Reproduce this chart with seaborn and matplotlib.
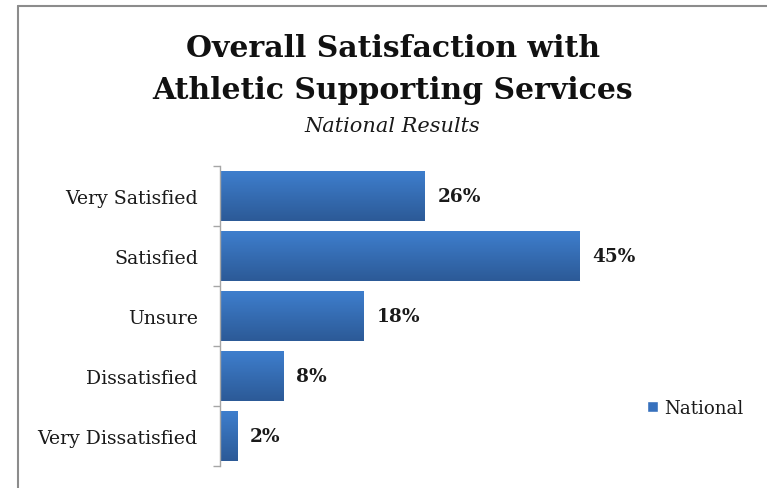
import numpy as np
import pandas as pd
import matplotlib
matplotlib.use("Agg")
import matplotlib.pyplot as plt
from matplotlib.lines import Line2D
from matplotlib.colors import LinearSegmentedColormap
import seaborn as sns

categories = ["Very Satisfied", "Satisfied", "Unsure", "Dissatisfied", "Very Dissatisfied"]
values = [25.6, 45.0, 18.0, 7.9, 2.2]
series_name = "National"
title_lines = ["Overall Satisfaction with", "Athletic Supporting Services"]
subtitle = "National Results"

df = pd.DataFrame({"category": categories, "value": values, "series": series_name})

sns.set_theme(style="white")
plt.rcParams["font.family"] = ["DejaVu Serif"]

W, H = 767, 489
fig = plt.figure(figsize=(W / 100, H / 100), dpi=100)
ax = fig.add_axes([220 / W, 1 - 467 / H, 420 / W, 300 / H])

bar_top = "#3e7ecd"
bar_bot = "#2c5a97"
sns.barplot(data=df, x="value", y="category", hue="series", orient="h",
            palette=["#356ab4"], width=0.83, ax=ax, legend=True, saturation=1)

ax.set_xlim(0, 52.5)
ax.set_ylim(4.5, -0.5)

# vertical gradient fill on bars
cmap = LinearSegmentedColormap.from_list("g", [bar_top, bar_bot])
grad = np.linspace(0, 1, 64).reshape(-1, 1)
for p in list(ax.patches):
    x0, y0 = p.get_x(), p.get_y()
    w, h = p.get_width(), p.get_height()
    if w <= 0:
        continue
    im = ax.imshow(grad, cmap=cmap, aspect="auto",
                   extent=[x0, x0 + w, y0 + h, y0], origin="upper",
                   zorder=p.get_zorder() + 0.1)
    im.set_clip_path(p)

for c in ax.containers:
    ax.bar_label(c, labels=[f"{v:.0f}%" for v in values], padding=9,
                 fontsize=13.3, fontweight="bold", color="#1a1a1a")

ax.set_xlabel("")
ax.set_ylabel("")
ax.set_xticks([])
for s in ["top", "right", "bottom"]:
    ax.spines[s].set_visible(False)
ax.spines["left"].set_color("#a6a6a6")
ax.spines["left"].set_linewidth(1.0)
ax.tick_params(axis="y", which="major", length=0, pad=16, labelsize=13.6,
               labelcolor="#1a1a1a")
ax.set_yticks(np.arange(-0.5, 5.0, 1.0), minor=True)
ax.tick_params(axis="y", which="minor", length=5, color="#a6a6a6", width=1.0, left=True)

leg = ax.legend(loc="center left", bbox_to_anchor=(647 / W, 1 - 409 / H),
                bbox_transform=fig.transFigure, frameon=False,
                handlelength=0.62, handleheight=0.62, handletextpad=0.3,
                fontsize=13.1, borderaxespad=0, borderpad=0)
for t in leg.get_texts():
    t.set_color("#1a1a1a")
for hnd in leg.legend_handles:
    hnd.set_facecolor("#3771bd")

cx = 393 / W
fig.text(cx, 1 - 57 / H, title_lines[0], ha="center", va="baseline",
         fontsize=21.5, fontweight="bold", color="#111111")
fig.text(cx, 1 - 99 / H, title_lines[1], ha="center", va="baseline",
         fontsize=21.5, fontweight="bold", color="#111111")
fig.text(392 / W, 1 - 132 / H, subtitle, ha="center", va="baseline",
         fontsize=15, style="italic", color="#1a1a1a")

# chart frame
fig.add_artist(Line2D([18 / W, 18 / W], [0, 1 - 7 / H], color="#8c8c8c", lw=1.5))
fig.add_artist(Line2D([18 / W, 1], [1 - 7 / H, 1 - 7 / H], color="#8c8c8c", lw=1.5))

fig.savefig("out.png", dpi=100)
